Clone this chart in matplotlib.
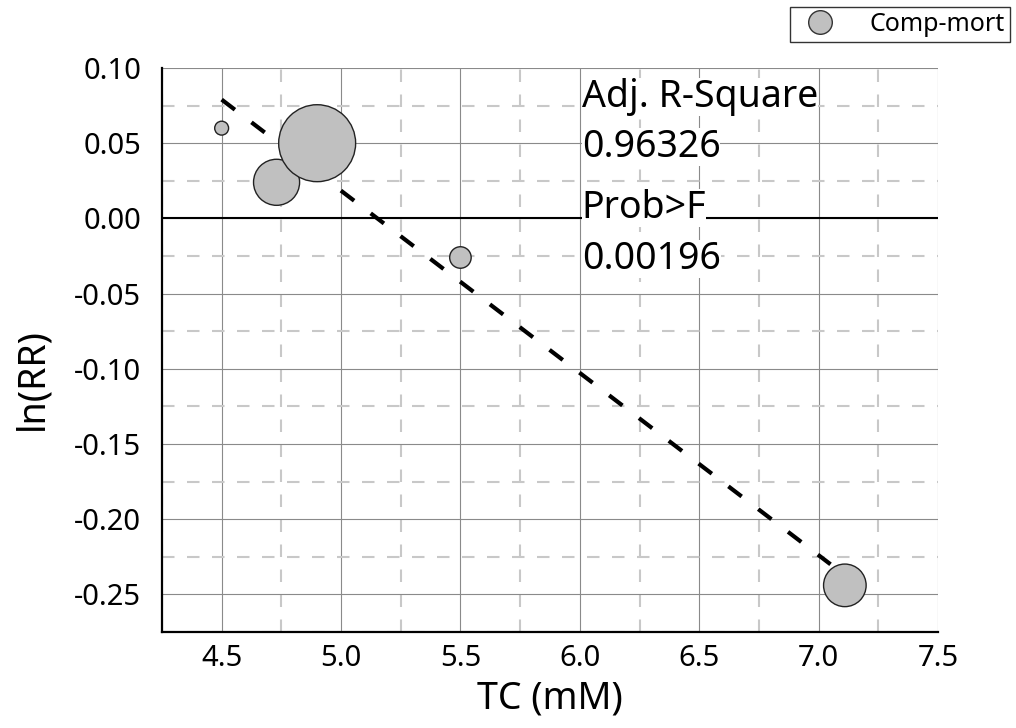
import matplotlib
matplotlib.use('Agg')
import matplotlib.pyplot as plt
from matplotlib.lines import Line2D
from matplotlib.ticker import MultipleLocator

plt.rcParams['font.family'] = ['Noto Sans', 'DejaVu Sans']

# meta-regression points: TC (mM) vs ln(RR), bubble size = weight
tc = [4.50, 4.73, 4.90, 5.50, 7.11]
ln_rr = [0.060, 0.024, 0.050, -0.026, -0.244]
weight = [100, 1100, 3070, 240, 940]

# fitted line (end points)
fit_x = [4.50, 7.05]
fit_y = [0.079, -0.230]

adj_r2 = '0.96326'
prob_f = '0.00196'

fig = plt.figure(figsize=(10.16, 7.28), dpi=100)
ax = fig.add_axes([0.1594, 0.1319, 0.7638, 0.7747])

ax.set_xlim(4.25, 7.5)
ax.set_ylim(-0.275, 0.10)
ax.xaxis.set_major_locator(MultipleLocator(0.5))
ax.xaxis.set_minor_locator(MultipleLocator(0.25))
ax.yaxis.set_major_locator(MultipleLocator(0.05))
ax.yaxis.set_minor_locator(MultipleLocator(0.025))
ax.xaxis.set_major_formatter(lambda v, p: f'{v:.1f}')
ax.yaxis.set_major_formatter(lambda v, p: f'{v:.2f}'.replace('\u2212', '-'))

ax.grid(True, which='major', color='#8a8a8a', lw=0.8)
ax.grid(True, which='minor', color='#c8c8c8', lw=1.5, ls=(0, (6, 6)))
ax.set_axisbelow(True)
ax.axhline(0, color='black', lw=1.5, zorder=1.5)

ax.tick_params(which='both', length=0)
ax.tick_params(axis='x', labelsize=21, pad=9)
ax.tick_params(axis='y', labelsize=21, pad=15)

for s in ['top', 'right']:
    ax.spines[s].set_visible(False)
for s in ['left', 'bottom']:
    ax.spines[s].set_linewidth(1.6)
    ax.spines[s].set_color('black')

ax.plot(fit_x, fit_y, color='black', lw=3, ls=(0, (4, 5)), zorder=2)
ax.scatter(tc, ln_rr, s=weight, facecolor='#c0c0c0', edgecolor='#222222',
           linewidth=1, zorder=3, clip_on=False)

box = dict(facecolor='white', edgecolor='none', pad=0)
ax.text(6.008, 0.0742, 'Adj. R-Square', fontsize=27, va='baseline', bbox=box, zorder=4)
ax.text(6.008, 0.0411, adj_r2, fontsize=27, va='baseline', bbox=box, zorder=4)
ax.text(6.008, 0.0005, 'Prob>F', fontsize=27, va='baseline', bbox=box, zorder=4)
ax.text(6.008, -0.0337, prob_f, fontsize=27, va='baseline', bbox=box, zorder=4)

ax.set_xlabel('TC (mM)', fontsize=27, labelpad=4)
ax.set_ylabel('ln(RR)', fontsize=27)
ax.yaxis.set_label_coords(-0.142, 0.449)

handle = Line2D([], [], marker='o', ls='none', ms=17, mfc='#c0c0c0',
                mec='#333333', mew=1)
leg = ax.legend([handle], ['Comp-mort'], loc='upper right',
                bbox_to_anchor=(1010 / 1016, 1 - 7 / 728),
                bbox_transform=fig.transFigure, fontsize=18, frameon=True,
                fancybox=False, borderpad=0.2, handletextpad=1.0,
                handlelength=2.0, borderaxespad=0)
leg.get_frame().set_edgecolor('black')
leg.get_frame().set_linewidth(1)

fig.savefig('out.png', dpi=100)
